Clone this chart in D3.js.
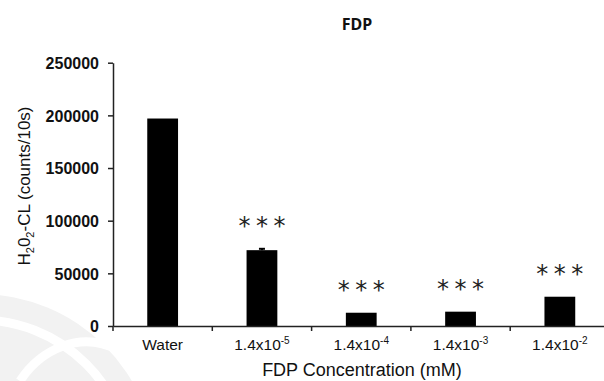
<!DOCTYPE html>
<html>
<head>
<meta charset="utf-8">
<script src="https://cdn.jsdelivr.net/npm/d3@7"></script>
<style>
  html, body { margin: 0; padding: 0; background: #fff; }
  svg { display: block; }
</style>
</head>
<body>
<svg id="chart" width="604" height="381"></svg>
<script>
// FDP dose series: chemiluminescence counts per 10 s
const categories = ["Water", "1.4x10-5", "1.4x10-4", "1.4x10-3", "1.4x10-2"];
const labelBase = ["Water", "1.4x10", "1.4x10", "1.4x10", "1.4x10"];
const labelExp = ["", "-5", "-4", "-3", "-2"];
const counts = [197000, 72000, 12600, 13600, 27800];
const sem = [0, 1300, 0, 0, 0];
const significance = ["", "***", "***", "***", "***"];
const yTicks = [0, 50000, 100000, 150000, 200000, 250000];

const svg = d3.select("#chart");
const plotLeft = 113, plotBottom = 326, plotTop = 62.7, plotRight = 609.5;

// faint circular emblem in the lower-left background
const emblem = svg.append("g");
emblem.append("circle").attr("cx", -20).attr("cy", 470).attr("r", 176).attr("fill", "#f2f2f2");
emblem.append("circle").attr("cx", -20).attr("cy", 470).attr("r", 150)
  .attr("fill", "none").attr("stroke", "#fff").attr("stroke-width", 9);
emblem.append("path").attr("d", "M20,381 C40,350 80,330 118,350 C140,362 150,375 152,381")
  .attr("fill", "none").attr("stroke", "#fff").attr("stroke-width", 9);

const x = d3.scaleBand().domain(categories).range([plotLeft, plotRight]).paddingInner(0.69).paddingOuter(0.345);
const xBounds = d3.scaleBand().domain(categories).range([plotLeft, plotRight]).padding(0);
const y = d3.scaleLinear().domain([0, 250000]).range([plotBottom, plotTop]);

// bars
svg.append("g").selectAll("rect").data(counts).join("rect")
  .attr("x", (d, i) => x(categories[i]))
  .attr("y", d => y(d))
  .attr("width", x.bandwidth())
  .attr("height", d => y(0) - y(d))
  .attr("fill", "#000");

// error bars
const eb = svg.append("g").attr("stroke", "#000").attr("stroke-width", 2);
counts.forEach((d, i) => {
  if (!sem[i]) return;
  const cx = x(categories[i]) + x.bandwidth() / 2;
  eb.append("line").attr("x1", cx).attr("x2", cx).attr("y1", y(d)).attr("y2", y(d + sem[i]));
  eb.append("line").attr("x1", cx - 3).attr("x2", cx + 3).attr("y1", y(d + sem[i])).attr("y2", y(d + sem[i]));
});

// significance markers
svg.append("g").selectAll("text").data(significance).join("text")
  .attr("x", (d, i) => x(categories[i]) + x.bandwidth() / 2 + 2.75)
  .attr("y", (d, i) => y(counts[i] + sem[i]) - 28 + 13.5)
  .attr("text-anchor", "middle")
  .attr("font-family", "DejaVu Sans, sans-serif")
  .attr("font-size", 24)
  .attr("letter-spacing", "5.5px")
  .attr("fill", "#222")
  .text(d => d);

// y axis
const yAxis = svg.append("g").attr("transform", `translate(${plotLeft},0)`)
  .call(d3.axisLeft(y).tickValues(yTicks).tickSize(5).tickSizeOuter(0).tickPadding(9).tickFormat(d3.format("d")));
yAxis.selectAll("path, line").attr("stroke", "#222").attr("stroke-width", 1.5);
yAxis.selectAll("text")
  .attr("font-family", "Liberation Sans, Arial, sans-serif")
  .attr("font-weight", "bold").attr("font-size", 16).attr("fill", "#111")
  .attr("dy", "0.36em");

// x axis: baseline plus ticks at category boundaries
const xAxis = svg.append("g").attr("transform", `translate(0,${plotBottom})`)
  .call(d3.axisBottom(xBounds).tickSize(0).tickSizeOuter(0).tickFormat(""));
xAxis.select("path").attr("stroke", "#222").attr("stroke-width", 1.5);
xAxis.selectAll(".tick").remove();
xAxis.selectAll("line.bound").data(categories).join("line").attr("class", "bound")
  .attr("x1", d => xBounds(d)).attr("x2", d => xBounds(d))
  .attr("y1", 0).attr("y2", 5)
  .attr("stroke", "#222").attr("stroke-width", 1.5);

// category labels with superscript exponents
svg.append("g").selectAll("text").data(categories).join("text")
  .attr("x", d => xBounds(d) + xBounds.bandwidth() / 2)
  .attr("y", 350)
  .attr("text-anchor", "middle")
  .attr("font-family", "Liberation Sans, Arial, sans-serif")
  .attr("font-size", 15.5)
  .attr("fill", "#111")
  .each(function (d, i) {
    const t = d3.select(this);
    t.append("tspan").text(labelBase[i]);
    if (labelExp[i]) t.append("tspan").attr("font-size", 10).attr("dy", -6).text(labelExp[i]);
  });

// axis titles
svg.append("text")
  .attr("x", 362).attr("y", 376)
  .attr("text-anchor", "middle")
  .attr("font-family", "Liberation Sans, Arial, sans-serif")
  .attr("font-size", 18).attr("fill", "#111")
  .text("FDP Concentration (mM)");

const yt = svg.append("text")
  .attr("transform", "translate(30,186) rotate(-90)")
  .attr("text-anchor", "middle")
  .attr("font-family", "Liberation Sans, Arial, sans-serif")
  .attr("font-size", 17).attr("fill", "#111");
yt.append("tspan").text("H");
yt.append("tspan").attr("font-size", 11).attr("dy", 4).text("2");
yt.append("tspan").attr("dy", -4).text("0");
yt.append("tspan").attr("font-size", 11).attr("dy", 4).text("2");
yt.append("tspan").attr("dy", -4).text("-CL (counts/10s)");

// chart title
svg.append("text")
  .attr("x", 357).attr("y", 30)
  .attr("text-anchor", "middle")
  .attr("font-family", "Noto Sans, sans-serif")
  .attr("font-weight", "bold").attr("font-size", 16).attr("fill", "#111")
  .text("FDP");
</script>
</body>
</html>
